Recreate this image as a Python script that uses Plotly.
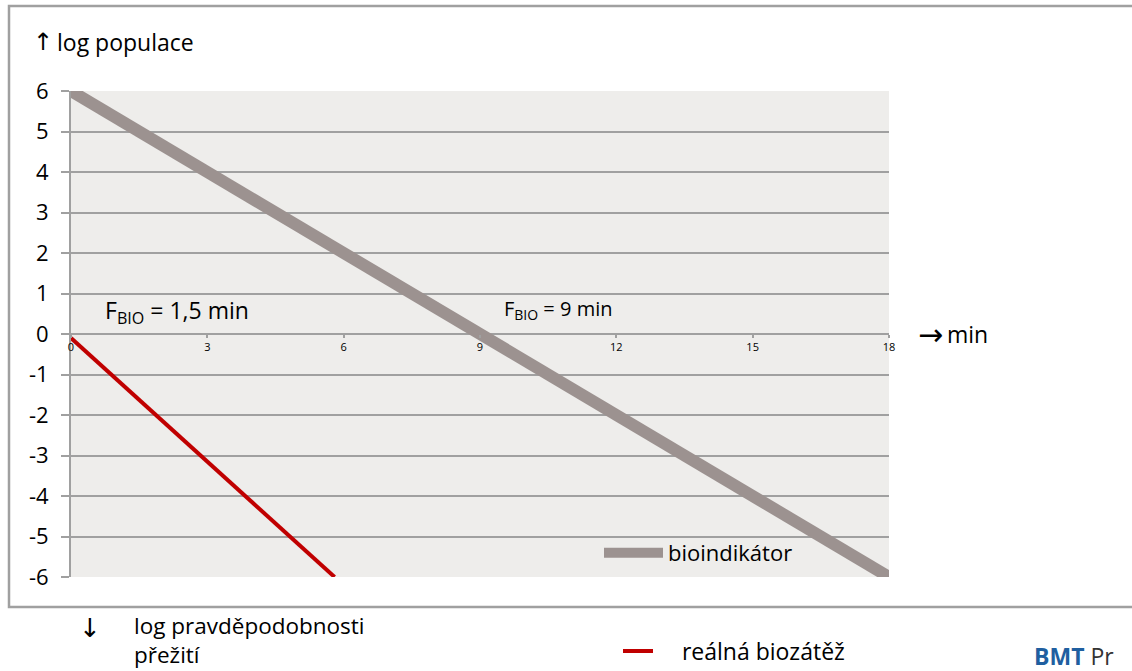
import plotly.graph_objects as go

# Data
bio_x = [0, 3, 6, 9, 12, 15, 18]
bio_y = [6, 4, 2, 0, -2, -4, -6]
real_x = [0, 5.8]
real_y = [-0.1, -6]
x_ticks = [0, 3, 6, 9, 12, 15, 18]
y_ticks = [6, 5, 4, 3, 2, 1, 0, -1, -2, -3, -4, -5, -6]

FONT = "Open Sans"
ARROW_FONT = "DejaVu Sans"
FS = 22
W, H = 1132, 671
L, R, T, B = 71, 889, 91, 577

def px(xp):
    return (xp - L) / (R - L)

def py(yp):
    return (B - yp) / (B - T)

fig = go.Figure()
fig.add_trace(go.Scatter(x=bio_x, y=bio_y, mode="lines", name="bioindikátor",
                         line=dict(color="#9C9290", width=12), legend="legend"))
fig.add_trace(go.Scatter(x=real_x, y=real_y, mode="lines",
                         name="\u00a0\u00a0\u00a0\u00a0reálná biozátěž",
                         line=dict(color="#C00000", width=4), legend="legend2"))

fig.update_layout(
    width=W, height=H,
    margin=dict(l=L, r=W - R, t=T, b=H - B, autoexpand=False),
    paper_bgcolor="white",
    plot_bgcolor="#EEEDEB",
    font=dict(family=FONT, size=FS, color="black"),
    xaxis=dict(range=[0, 18], tickvals=x_ticks, ticktext=[str(v) for v in x_ticks],
               anchor="free", position=0.5, showgrid=False, zeroline=False,
               showline=False, ticks="outside", ticklen=3, tickcolor="#A0A0A0",
               tickwidth=2, tickfont=dict(size=11, family=FONT)),
    yaxis=dict(range=[-6, 6], tickvals=y_ticks, ticktext=[str(v) for v in y_ticks],
               showgrid=True, gridcolor="#A0A0A0", gridwidth=2, zeroline=False,
               showline=True, linecolor="#A0A0A0", linewidth=2,
               ticks="outside", ticklen=8, tickcolor="#A0A0A0", tickwidth=2,
               ticklabelstandoff=8, tickfont=dict(size=FS, family=FONT)),
    legend=dict(x=px(599), y=py(553), xanchor="left", yanchor="middle",
                itemwidth=59,
                bgcolor="rgba(0,0,0,0)", font=dict(size=22, family=FONT)),
    legend2=dict(x=px(618), y=py(651), xanchor="left", yanchor="middle",
                 itemwidth=30,
                 bgcolor="rgba(0,0,0,0)", font=dict(size=23, family=FONT)),
    showlegend=True,
)

# outer frame
fig.add_shape(type="rect", xref="paper", yref="paper",
              x0=px(9), x1=px(1150), y0=py(607), y1=py(6),
              line=dict(color="#A0A0A0", width=2.5), fillcolor="rgba(0,0,0,0)", layer="below")

def ann(text, x, y, size=23, xanchor="left", color="black", family=FONT):
    fig.add_annotation(text=text, x=px(x), y=py(y), xref="paper", yref="paper",
                       xanchor=xanchor, yanchor="middle", showarrow=False, align="left",
                       font=dict(size=size, family=family, color=color))

ann("↑", 31, 42, size=24, family=ARROW_FONT)
ann("log populace", 55, 42)
ann("→", 916, 334, size=30, family=ARROW_FONT)
ann("min", 945, 334)
ann("↓", 90, 628, size=26, xanchor="center", family=ARROW_FONT)
ann("log pravděpodobnosti<br>přežití", 132, 640, size=22.5)
ann("F<sub>BIO</sub> = 1,5 min", 103, 311)
ann("F<sub>BIO</sub> = 9 min", 502, 309, size=20)
ann("<b><span style='color:#1F5FA0'>BMT</span></b> Pr", 1032, 656, size=23, color="#333333")

fig.write_html("out.html", config={"displayModeBar": False},
               post_script="document.body.style.margin='0';")
